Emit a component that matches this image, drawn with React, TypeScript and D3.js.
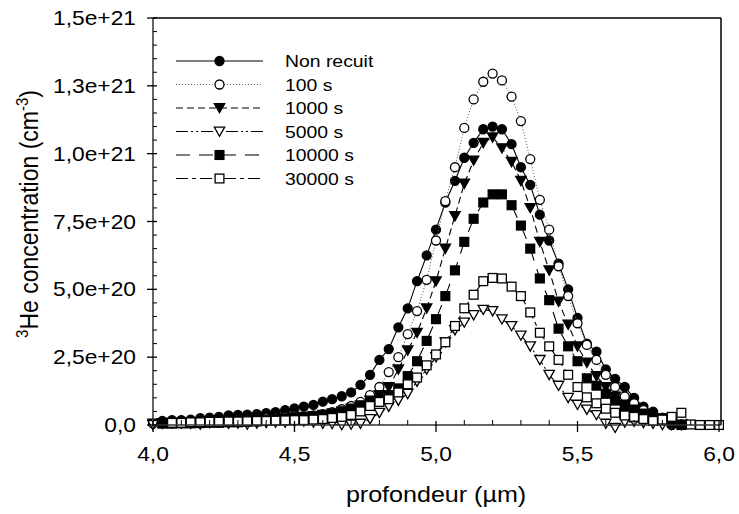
import React from "react";
import * as d3 from "d3";

// depth grid (µm)
const depth = [4.000,4.033,4.067,4.100,4.133,4.167,4.200,4.233,4.267,4.300,4.333,4.367,4.400,4.433,4.467,4.500,4.533,4.567,4.600,4.633,4.667,4.700,4.733,4.767,4.800,4.833,4.867,4.900,4.933,4.967,5.000,5.033,5.067,5.100,5.133,5.167,5.200,5.233,5.267,5.300,5.333,5.367,5.400,5.433,5.467,5.500,5.533,5.567,5.600,5.633,5.667,5.700,5.733,5.767,5.800,5.833,5.867,5.900,5.933,5.967,6.000];

// concentrations in units of 1e20 cm^-3
const nonRecuit = [null,0.15,0.18,0.18,0.2,0.25,0.27,0.3,0.35,0.37, 0.38,0.4,0.44,0.47,0.55,0.61,0.68,0.74,0.86,0.95, 1.06,1.2,1.48,1.85,2.4,2.8,3.6,4.3,5.3,6.25, 7.2,8.2,9.0,9.85,10.4,10.9,11.0,10.9,10.35,9.5, 8.85,7.75,6.8,5.95,5.0,3.95,3.0,2.7,2.05,1.7, 1.4,1.0,0.68,0.49,0.27,0.0, null,null,null,null,null];
const s100 = [0.05,0.08,0.1,0.1,0.12,0.12,0.14,0.15,0.17,0.18, 0.2,0.22,0.25,0.27,0.3,0.33,0.32,0.35,0.4,0.47, 0.58,0.7,0.85,1.1,1.4,1.95,2.5,3.35,4.2,5.35, 6.8,8.25,9.5,10.95,12.0,12.65,12.95,12.7,12.1,11.2, 9.8,8.3,7.2,5.85,4.75,3.75,2.95,2.4,1.85,1.4, 1.05,0.8,0.55,0.35,0.2,0.08,0.02, null,null,null,null];
const s1000 = [0.05,0.06,0.07,0.08,0.1,0.1,0.12,0.13,0.15,0.15, 0.17,0.18,0.2,0.22,0.25,0.28,0.3,0.33,0.38,0.42, 0.5,0.6,0.72,0.9,1.1,1.4,2.05,2.75,3.4,4.3, 5.3,6.5,7.7,8.9,9.75,10.4,10.6,10.2,9.7,9.0, 8.0,6.75,5.7,4.55,3.7,2.9,2.3,1.8,1.4,1.05, 0.75,0.55,0.4,0.25,0.15,0.05,0.0, null,null,null,null];
const s5000 = [0.0,0.05,0.08,0.06,0.05,0.02,0.08,0.1,0.05,0.06, 0.02,0.06,0.08,0.1,0.1,0.12,0.13,0.1,0.05,0.04, 0.0,0.02,0.05,0.22,0.45,0.68,0.9,1.15,1.6,2.05, 2.5,3.05,3.5,3.78,4.05,4.25,4.2,3.9,3.65,3.3, 2.9,2.4,1.85,1.45,1.0,0.75,0.57,0.37,0.05,-0.1, 0.1,0.12,0.08,0.05,0.0,0.0,0.02, null,null,null,null];
const s10000 = [null,0.05,0.05,0.06,0.06,0.07,0.08,0.08,0.1,0.1, 0.12,0.13,0.15,0.17,0.19,0.22,0.25,0.3,0.35,0.42, 0.5,0.6,0.72,0.85,0.95,1.1,1.35,1.8,2.35,3.1, 3.9,4.75,5.7,6.75,7.6,8.2,8.5,8.5,8.1,7.35, 6.5,5.4,4.6,3.55,2.9,2.35,1.72,1.45,1.15,0.9, 0.7,0.57,0.42,0.37,0.25,0.08,0.0, null,null,null,null];
const s30000 = [null,null,0.08,0.08,0.1,0.1,0.12,0.12,0.13,0.13, 0.14,0.15,0.15,0.16,0.17,0.18,0.18,0.2,0.22,0.26, 0.3,0.37,0.5,0.7,0.85,0.95,1.2,1.5,1.75,2.2, 2.6,3.05,3.65,4.3,4.8,5.3,5.42,5.4,5.1,4.75, 4.15,3.4,2.9,2.4,1.85,1.4,1.02,0.8,0.6,0.45, 0.35,0.3,0.22,0.15,0.2,0.3,0.45,0.02,0.0,0.0,0.0];

const seriesNames = ["Non recuit", "100 s", "1000 s", "5000 s", "10000 s", "30000 s"];
const seriesValues = [nonRecuit, s100, s1000, s5000, s10000, s30000];

const yTicks = [0, 2.5, 5, 7.5, 10, 12.5, 15];
const yTickLabels = ["0,0", "2,5e+20", "5,0e+20", "7,5e+20", "1,0e+21", "1,3e+21", "1,5e+21"];
const xTicks = [4, 4.5, 5, 5.5, 6];
const xTickLabels = ["4,0", "4,5", "5,0", "5,5", "6,0"];

const styles = [
  { dash: null, marker: "circle", fill: "#000" },
  { dash: "1,2", marker: "circle", fill: "#fff" },
  { dash: "7,4", marker: "tri", fill: "#000" },
  { dash: "12,3,2,3,2,3", marker: "tri", fill: "#fff" },
  { dash: "14,9", marker: "square", fill: "#000" },
  { dash: "12,4,4,4", marker: "square", fill: "#fff" },
];

const FONT = "'Liberation Sans', Arial, Helvetica, sans-serif";
const SX = 1.14;

function Marker({ type, x, y, fill }: { type: string; x: number; y: number; fill: string }) {
  const sw = 1.3;
  if (type === "circle") return <circle cx={x} cy={y} r={4.5} fill={fill} stroke="#000" strokeWidth={sw} />;
  if (type === "tri")
    return <path d={`M${x - 5.2},${y - 4.4}L${x + 5.2},${y - 4.4}L${x},${y + 4.8}Z`} fill={fill} stroke="#000" strokeWidth={sw} />;
  return <rect x={x - 4.4} y={y - 4.4} width={8.8} height={8.8} fill={fill} stroke="#000" strokeWidth={sw} />;
}

export default function App() {
  const x = d3.scaleLinear().domain([4, 6]).range([153, 719]);
  const y = d3.scaleLinear().domain([0, 15]).range([425, 18]);
  const xMinor = d3.range(40, 61).map((v) => v / 10).filter((v) => !xTicks.some((t) => Math.abs(t - v) < 1e-6));
  const yMinor = d3.range(0, 31).map((v) => v / 2).filter((v) => !yTicks.some((t) => Math.abs(t - v) < 1e-6));

  const line = d3
    .line<number | null>()
    .defined((d) => d != null)
    .x((_, i) => x(depth[i]))
    .y((d) => y(d as number));

  const legendY = [61, 84.5, 108, 131.5, 155, 178.5];

  return (
    <svg width={739} height={514} style={{ position: "absolute", left: 0, top: 0, background: "#fff" }} fontFamily={FONT}>
      <rect x={0} y={0} width={739} height={514} fill="#fff" />
      {seriesValues.map((vals, si) => (
        <g key={si}>
          <path d={line(vals) || ""} fill="none" stroke={si === 1 ? "#666" : "#000"} strokeWidth={1.1} strokeDasharray={styles[si].dash || undefined} />
          {vals.map((v, i) => (v == null ? null : <Marker key={i} type={styles[si].marker} x={x(depth[i])} y={y(v)} fill={styles[si].fill} />))}
        </g>
      ))}
      <line x1={153} x2={721} y1={18} y2={18} stroke="#000" strokeWidth={1.5} />
      <line x1={721} x2={721} y1={18} y2={425} stroke="#000" strokeWidth={1.5} />
      <line x1={153} x2={721} y1={425} y2={425} stroke="#333" strokeWidth={1.5} />
      <line x1={153} x2={153} y1={18} y2={425} stroke="#333" strokeWidth={1.5} />
      {yTicks.map((t, i) => (
        <g key={t}>
          <line x1={147} x2={157} y1={y(t)} y2={y(t)} stroke="#000" strokeWidth={1.3} />
          <text transform={`translate(136,${y(t) + 7}) scale(${SX},1)`} textAnchor="end" fontSize={20} fill="#000">
            {yTickLabels[i]}
          </text>
        </g>
      ))}
      {yMinor.map((t) => (
        <line key={t} x1={153} x2={157} y1={y(t)} y2={y(t)} stroke="#000" strokeWidth={1} />
      ))}
      {xTicks.map((t, i) => (
        <g key={t}>
          <line x1={x(t)} x2={x(t)} y1={421} y2={432} stroke="#000" strokeWidth={1.3} />
          <text transform={`translate(${x(t)},461) scale(${SX},1)`} textAnchor="middle" fontSize={20} fill="#000">
            {xTickLabels[i]}
          </text>
        </g>
      ))}
      {xMinor.map((t) => (
        <line key={t} x1={x(t)} x2={x(t)} y1={420} y2={425} stroke="#000" strokeWidth={1} />
      ))}
      <text transform={`translate(436,502) scale(${SX},1)`} textAnchor="middle" fontSize={22} fill="#000">
        profondeur (µm)
      </text>
      <text transform={`translate(38,214) rotate(-90) scale(1,${SX})`} textAnchor="middle" fontSize={23} fill="#000">
        <tspan fontSize={15} dy={-9}>3</tspan>
        <tspan dy={9}>He concentration (cm</tspan>
        <tspan fontSize={15} dy={-9}>-3</tspan>
        <tspan dy={9}>)</tspan>
      </text>
      {seriesNames.map((n, i) => (
        <g key={n}>
          <line x1={176} x2={263} y1={legendY[i]} y2={legendY[i]} stroke={i === 1 ? "#666" : "#000"} strokeWidth={1.1} strokeDasharray={styles[i].dash || undefined} />
          <Marker type={styles[i].marker} x={219.5} y={legendY[i]} fill={styles[i].fill} />
          <text transform={`translate(285,${legendY[i] + 6}) scale(${SX},1)`} fontSize={17} fill="#000">
            {n}
          </text>
        </g>
      ))}
    </svg>
  );
}
